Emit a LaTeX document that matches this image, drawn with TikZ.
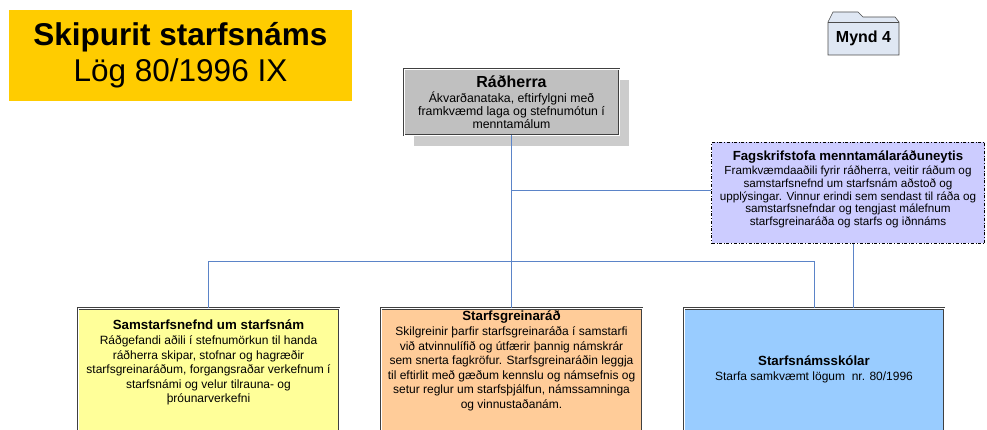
\documentclass[tikz,border=0pt]{standalone}
\usepackage{fontspec}
\setmainfont{Liberation Sans}
\usetikzlibrary{positioning,shadows}
\definecolor{titleyellow}{HTML}{FFCC00}
\definecolor{radgray}{HTML}{C0C0C0}
\definecolor{shadowgray}{HTML}{CCCCCC}
\definecolor{fagblue}{HTML}{CCCCFF}
\definecolor{samstyellow}{HTML}{FFFF99}
\definecolor{greinorange}{HTML}{FFCC99}
\definecolor{skolarblue}{HTML}{99CCFF}
\definecolor{folderblue}{HTML}{DFE7F3}
\definecolor{linkblue}{HTML}{5B84C8}

\begin{document}
\begin{tikzpicture}[x=1pt,y=-1pt]
        \tikzset{box/.style={draw=black!75, double=white, double distance=0.9pt, line width=0.8pt, inner sep=0pt},
                 conn/.style={draw=linkblue, line width=0.8pt},
                 head/.style={font=\bfseries\fontsize{13.3}{14.6}\selectfont},
                 info/.style={align=center, inner sep=0pt, font=\fontsize{12}{14.6}\selectfont}}
        \useasboundingbox (0,0) rectangle (987,430);
        \clip (0,0) rectangle (987,430);
        \node[fill=titleyellow, minimum width=343pt, minimum height=91pt, align=center, font=\fontsize{31.5}{36}\selectfont] (title) at (180.5,55.5) {\textbf{Skipurit starfsnáms}\\Lög 80/1996 IX};
        \filldraw[fill=folderblue, draw=black!70, line width=0.6pt] (828,55) -- (828,22) -- (833,12) -- (858,12) -- (863,17) -- (895,17) -- (899,22) -- (899,55) -- cycle;
        \draw[black!70, line width=0.6pt] (828,22) -- (899,22);
        \node[font=\bfseries\fontsize{16}{18}\selectfont] (mynd) at (863.5,38.5) {Mynd 4};
        \node[box, fill=radgray, minimum width=215pt, minimum height=66pt, align=center, font=\fontsize{12.3}{13}\selectfont,
              drop shadow={shadow xshift=10pt, shadow yshift=-11pt, fill=shadowgray, opacity=1}] (rad) at (511.5,102)
              {{\bfseries\fontsize{16}{16}\selectfont Ráðherra}\\[2.5pt]Ákvarðanataka, eftirfylgni með\\framkvæmd laga og stefnumótun í\\menntamálum};
        \node[draw, dash dot, fill=fagblue, minimum width=273pt, minimum height=101pt, align=center, inner sep=0pt, font=\fontsize{11.7}{12.7}\selectfont] (fag) at (848,193)
              {{\bfseries\fontsize{13.2}{13}\selectfont Fagskrifstofa menntamálaráðuneytis}\\[1.5pt]Framkvæmdaaðili fyrir ráðherra, veitir ráðum og\\samstarfsnefnd um starfsnám aðstoð og\\upplýsingar. Vinnur erindi sem sendast til ráða og\\samstarfsnefndar og tengjast málefnum\\starfsgreinaráða og starfs og iðnnáms\\[-3pt]};
        \node[box, fill=samstyellow, minimum width=261pt, minimum height=150pt, anchor=north] (samst) at (208.5,308) {};
        \node[box, fill=greinorange, minimum width=261pt, minimum height=150pt, anchor=north] (grein) at (511.5,308) {};
        \node[box, fill=skolarblue, minimum width=260pt, minimum height=150pt, anchor=north] (skolar) at (814,308) {};
        \node[info, below=12pt of samst.north] (samsttext) {{\bfseries\fontsize{13.3}{14.6}\selectfont Samstarfsnefnd um starfsnám}\\Ráðgefandi aðili í stefnumörkun til handa\\ráðherra skipar, stofnar og hagræðir\\starfsgreinaráðum, forgangsraðar verkefnum í\\starfsnámi og velur tilrauna- og\\þróunarverkefni};
        \node[info, below=3pt of grein.north] (greintext) {{\bfseries\fontsize{13.3}{14.6}\selectfont Starfsgreinaráð}\\Skilgreinir þarfir starfsgreinaráða í samstarfi\\við atvinnulífið og útfærir þannig námskrár\\sem snerta fagkröfur. Starfsgreinaráðin leggja\\til eftirlit með gæðum kennslu og námsefnis og\\setur reglur um starfsþjálfun, námssamninga\\og vinnustaðanám.};
        \node[info, below=48pt of skolar.north] (skolartext) {{\bfseries\fontsize{13.3}{14.6}\selectfont Starfsnámsskólar}\\Starfa samkvæmt lögum~ nr. 80/1996};
        \coordinate (busl) at (208.5,261);
        \coordinate (busr) at (814,261);
        \draw[conn] (rad.south) -- (grein.north);
        \draw[conn] (samst.north) -- (busl) -- (busr) -- (skolar.north);
        \draw[conn] (rad.south |- fag.west) ++(0,-3) -- ([yshift=3pt]fag.west);
        \draw[conn] ([xshift=5pt]fag.south) -- ([xshift=5pt]fag.south |- skolar.north);
\end{tikzpicture}
\end{document}
